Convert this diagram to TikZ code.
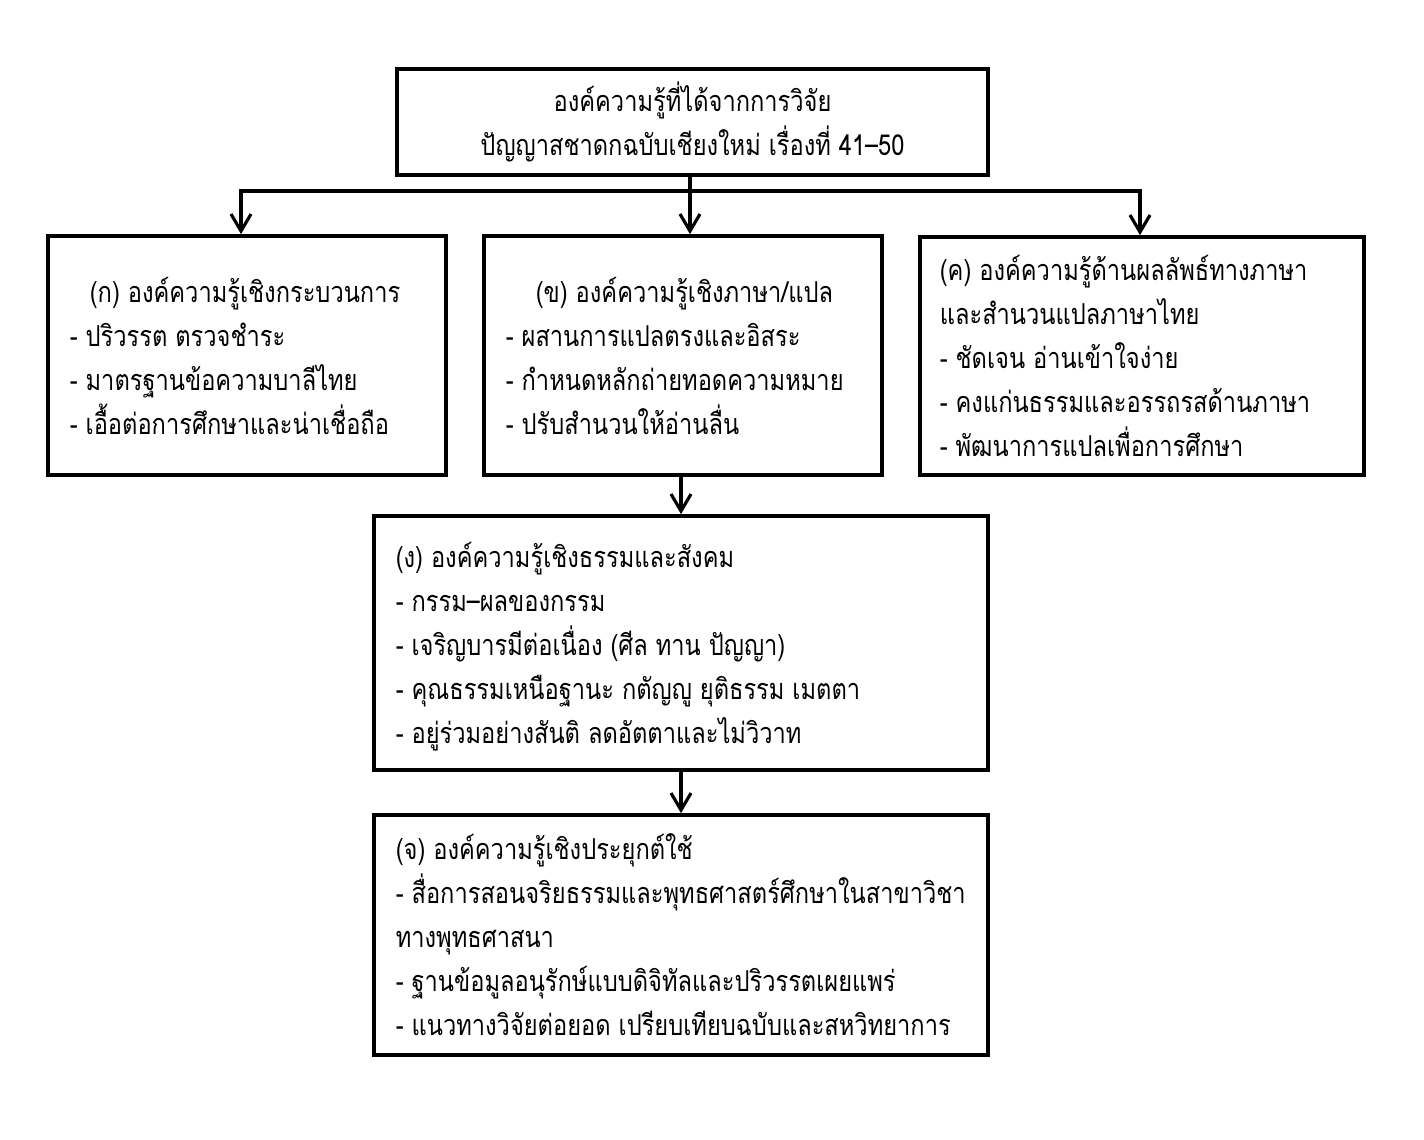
\documentclass[tikz,border=0pt]{standalone}
\usepackage{fontspec}
\newfontfamily\thaifont[Script=Thai, FakeStretch=0.82]{Loma}
\usetikzlibrary{positioning,arrows.meta}

\begin{document}
\begin{tikzpicture}[
    x=0.01cm, y=-0.01cm,
    box/.style={draw, line width=1pt, inner sep=0pt},
    body/.style={inner sep=0pt, align=left, font=\thaifont\fontsize{8.2}{12.5}\selectfont},
    arr/.style={line width=0.9pt, -{Straight Barb[length=0.17cm, width=0.2cm, line width=0.9pt]}}
]
    \useasboundingbox (0,0) rectangle (1424,1140);

    \node[box, minimum width=5.91cm, minimum height=1.06cm, align=center,
        font=\thaifont\fontsize{8.2}{12.5}\selectfont] (top) at (692.5,122)
        {องค์ความรู้ที่ได้จากการวิจัย\\ปัญญาสชาดกฉบับเชียงใหม่ เรื่องที่ 41–50};

    \node[box, minimum width=3.98cm, minimum height=2.39cm] (proc) at (247,355.5) {};
    \node[box, minimum width=3.98cm, minimum height=2.39cm] (lang) at (683,355.5) {};
    \node[box, minimum width=4.44cm, minimum height=2.38cm] (result) at (1142,356) {};
    \node[box, minimum width=6.14cm, minimum height=2.54cm] (dhamma) at (681,643) {};
    \node[box, minimum width=6.14cm, minimum height=2.40cm] (apply) at (681,935) {};

    \node[body, right=0.23cm of proc.west] (proc text)
        {\hspace*{0.2cm}(ก) องค์ความรู้เชิงกระบวนการ\\- ปริวรรต ตรวจชำระ\\- มาตรฐานข้อความบาลีไทย\\- เอื้อต่อการศึกษาและน่าเชื่อถือ};
    \node[body, right=0.23cm of lang.west] (lang text)
        {\hspace*{0.3cm}(ข) องค์ความรู้เชิงภาษา/แปล\\- ผสานการแปลตรงและอิสระ\\- กำหนดหลักถ่ายทอดความหมาย\\- ปรับสำนวนให้อ่านลื่น};
    \node[body, right=0.21cm of result.west] (result text)
        {(ค) องค์ความรู้ด้านผลลัพธ์ทางภาษา\\และสำนวนแปลภาษาไทย\\- ชัดเจน อ่านเข้าใจง่าย\\- คงแก่นธรรมและอรรถรสด้านภาษา\\- พัฒนาการแปลเพื่อการศึกษา};
    \node[body, right=0.23cm of dhamma.west, yshift=-0.04cm] (dhamma text)
        {(ง) องค์ความรู้เชิงธรรมและสังคม\\- กรรม–ผลของกรรม\\- เจริญบารมีต่อเนื่อง (ศีล ทาน ปัญญา)\\- คุณธรรมเหนือฐานะ กตัญญู ยุติธรรม เมตตา\\- อยู่ร่วมอย่างสันติ ลดอัตตาและไม่วิวาท};
    \node[body, right=0.23cm of apply.west] (apply text)
        {(จ) องค์ความรู้เชิงประยุกต์ใช้\\- สื่อการสอนจริยธรรมและพุทธศาสตร์ศึกษาในสาขาวิชา\\ทางพุทธศาสนา\\- ฐานข้อมูลอนุรักษ์แบบดิจิทัลและปริวรรตเผยแพร่\\- แนวทางวิจัยต่อยอด เปรียบเทียบฉบับและสหวิทยาการ};

    \coordinate (split) at (690,191);
    \draw[line width=0.9pt] (split |- top.south) -- (split);
    \draw[arr] (split) -- (split |- lang.north);
    \draw[arr] (split) -| ([xshift=-0.06cm]proc.north);
    \draw[arr] (split) -| ([xshift=-0.02cm]result.north);
    \draw[arr] (dhamma.north |- lang.south) -- (dhamma.north);
    \draw[arr] (dhamma) -- (apply);
\end{tikzpicture}
\end{document}
